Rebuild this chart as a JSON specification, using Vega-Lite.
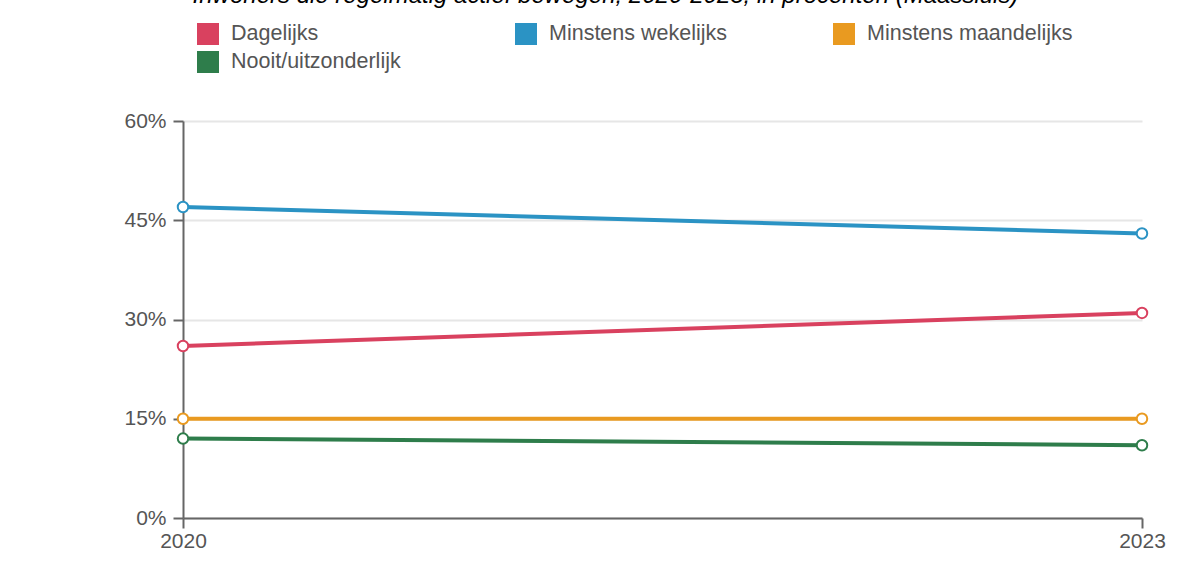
{
  "$schema": "https://vega.github.io/schema/vega-lite/v6.json",
  "width": 959,
  "height": 397,
  "autosize": "none",
  "padding": {"left": 183, "top": 121, "right": 41, "bottom": 61},
  "background": "white",
  "title": {
    "text": "Inwoners die regelmatig actief bewegen, 2020-2023, in procenten (Maassluis)",
    "font": "Liberation Sans",
    "fontStyle": "italic",
    "fontWeight": "normal",
    "fontSize": 24,
    "color": "#000000",
    "anchor": "middle",
    "frame": "group",
    "dx": -57,
    "baseline": "alphabetic",
    "offset": -4
  },
  "data": {
    "values": [
      {"jaar": "2020", "categorie": "Dagelijks", "waarde": 26},
      {"jaar": "2023", "categorie": "Dagelijks", "waarde": 31},
      {"jaar": "2020", "categorie": "Minstens wekelijks", "waarde": 47},
      {"jaar": "2023", "categorie": "Minstens wekelijks", "waarde": 43},
      {"jaar": "2020", "categorie": "Minstens maandelijks", "waarde": 15},
      {"jaar": "2023", "categorie": "Minstens maandelijks", "waarde": 15},
      {"jaar": "2020", "categorie": "Nooit/uitzonderlijk", "waarde": 12},
      {"jaar": "2023", "categorie": "Nooit/uitzonderlijk", "waarde": 11}
    ]
  },
  "config": {
    "view": {"stroke": null},
    "axis": {
      "labelFont": "Liberation Sans",
      "labelFontSize": 21,
      "labelColor": "#555555",
      "domainColor": "#666666",
      "domainWidth": 2,
      "tickColor": "#666666",
      "tickWidth": 2,
      "tickSize": 10,
      "gridColor": "#e6e6e6",
      "gridWidth": 2
    }
  },
  "encoding": {
    "x": {
      "field": "jaar",
      "type": "ordinal",
      "scale": {"type": "point", "padding": 0},
      "axis": {"title": null, "labelAngle": 0, "grid": false, "labelPadding": 2}
    },
    "y": {
      "field": "waarde",
      "type": "quantitative",
      "scale": {"domain": [0, 60]},
      "axis": {
        "title": null,
        "values": [0, 15, 30, 45, 60],
        "labelExpr": "datum.value + '%'",
        "labelPadding": 7
      }
    },
    "color": {
      "field": "categorie",
      "type": "nominal",
      "sort": ["Dagelijks", "Minstens wekelijks", "Minstens maandelijks", "Nooit/uitzonderlijk"],
      "scale": {
        "domain": ["Dagelijks", "Minstens wekelijks", "Minstens maandelijks", "Nooit/uitzonderlijk"],
        "range": ["#d9415f", "#2b93c4", "#e99a20", "#2e7d4b"]
      },
      "legend": {
        "title": null,
        "orient": "none",
        "legendX": 14,
        "legendY": -98,
        "direction": "horizontal",
        "columns": 3,
        "gridAlign": "all",
        "columnPadding": 78,
        "rowPadding": 6,
        "symbolType": "square",
        "symbolSize": 484,
        "symbolStrokeWidth": 0,
        "symbolOpacity": 1,
        "symbolOffset": 0,
        "labelOffset": 12,
        "labelFont": "Liberation Sans",
        "labelFontSize": 21.5,
        "labelColor": "#555555",
        "labelLimit": 400,
        "encode": {
          "symbols": {
            "update": {
              "fill": {"signal": "scale('color', datum.value)"},
              "strokeWidth": {"value": 0},
              "opacity": {"value": 1}
            }
          }
        }
      }
    }
  },
  "layer": [
    {"mark": {"type": "line", "strokeWidth": 4}},
    {"mark": {"type": "point", "filled": false, "fill": "white", "size": 110, "strokeWidth": 2, "opacity": 1}}
  ]
}
